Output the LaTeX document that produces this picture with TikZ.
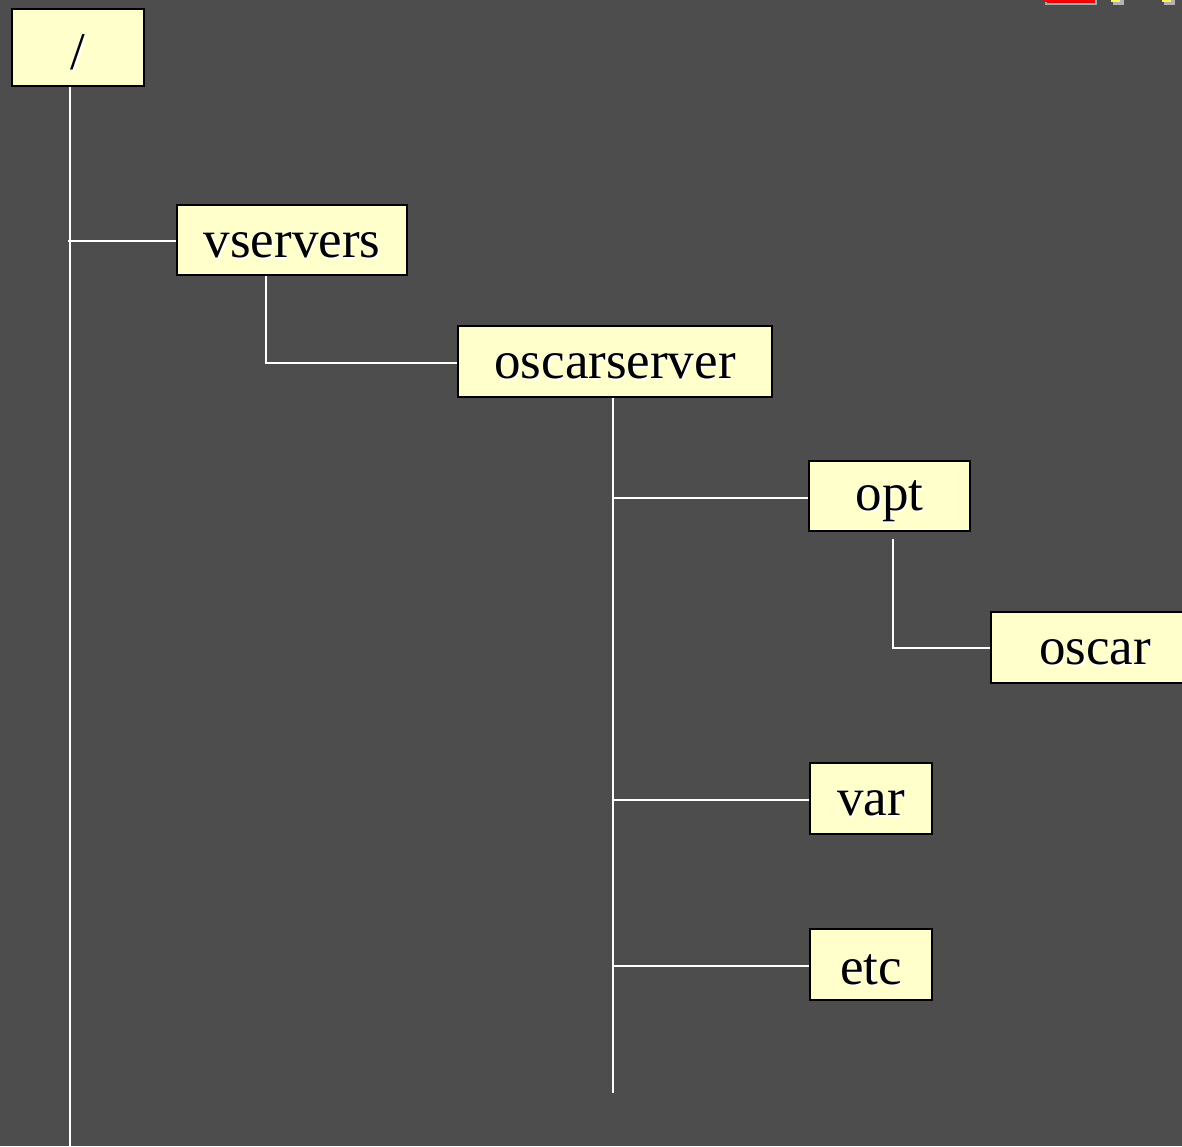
\documentclass[tikz,border=0pt]{standalone}
\usepackage{fontspec}
\setmainfont{Liberation Serif}
\definecolor{bgc}{HTML}{4D4D4D}
\definecolor{boxc}{HTML}{FFFFCC}
\newcommand\shtxt[1]{\raisebox{-6pt}[\height][\depth]{\makebox[0pt][l]{\hspace{1.6pt}\raisebox{-1.6pt}{\color{white}#1}}#1}}
\tikzset{
  dirbox/.style={draw=black, line width=2pt, fill=boxc, inner sep=0pt, anchor=north west,
    font=\fontsize{53}{58}\selectfont, align=center},
  wire/.style={draw=white, line width=1.6pt},
}
\begin{document}
\begin{tikzpicture}[x=1pt,y=-1pt]
\fill[bgc] (0,0) rectangle (1182,1146);
\useasboundingbox (0,0) rectangle (1182,1146);
\begin{scope}
\clip (0,0) rectangle (1182,1146);
% top-right fragments
\draw[fill=red!85!black, draw=gray!70, line width=1.5pt] (1046,-5) rectangle (1096,4);
\fill[red] (1043,-5) rectangle (1095,2);
\fill[gray!60] (1113,-5) rectangle (1124,5);
\fill[yellow!70] (1111,-5) rectangle (1120,2);
\fill[gray!60] (1164,-5) rectangle (1175,5);
\fill[yellow!70] (1162,-5) rectangle (1171,2);

% nodes
\node[dirbox, minimum width=132pt, minimum height=77pt] (root) at (11,8) {\shtxt{/}};
\node[dirbox, minimum width=230pt, minimum height=70pt] (vservers) at (176,204) {\shtxt{vservers}};
\node[dirbox, minimum width=314pt, minimum height=71pt] (oscarserver) at (457,325) {\shtxt{oscarserver}};
\node[dirbox, minimum width=161pt, minimum height=70pt] (opt) at (808,460) {\shtxt{opt}};
\node[dirbox, minimum width=210pt, minimum height=71pt, text width=210pt] (oscar) at (990,611) {\hspace*{-2pt}\shtxt{oscar}\hspace*{2pt}};
\node[dirbox, minimum width=122pt, minimum height=71pt] (var) at (809,762) {\shtxt{var}};
\node[dirbox, minimum width=122pt, minimum height=71pt] (etc) at (809,928) {\shtxt{etc}};

% junction coordinates
\coordinate (rootend) at (70,1146);
\coordinate (j1) at (68,241);
\coordinate (j2) at (266,363);
\coordinate (srvend) at (613,1093);
\coordinate (j3) at (613,498);
\coordinate (j4) at (613,800);
\coordinate (j5) at (613,966);
\coordinate (j6) at (893,648);

% connectors
\draw[wire] (root.south -| rootend) -- (rootend);
\draw[wire] (j1) -- (j1 -| vservers.west);
\draw[wire] (vservers.south -| j2) -- (j2) -- (j2 -| oscarserver.west);
\draw[wire] (oscarserver.south -| srvend) -- (srvend);
\draw[wire] (j3) -- (j3 -| opt.west);
\draw[wire] (j4) -- (j4 -| var.west);
\draw[wire] (j5) -- (j5 -| etc.west);
\draw[wire] ([yshift=-7pt]opt.south -| j6) -- (j6) -- (j6 -| oscar.west);
\end{scope}
\end{tikzpicture}
\end{document}
